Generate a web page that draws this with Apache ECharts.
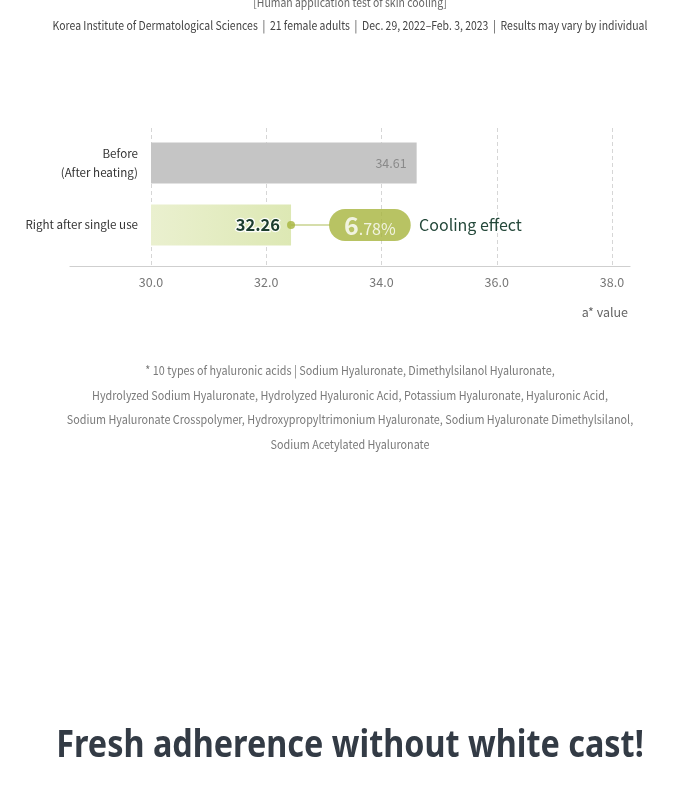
<!DOCTYPE html>
<html><head><meta charset="utf-8">
<script src="https://cdn.jsdelivr.net/npm/echarts@6/dist/echarts.min.js"></script>
<style>html,body{margin:0;padding:0;background:#fff}#c{width:700px;height:810px}</style>
</head><body><div id="c"></div>
<script>
// ---- data ----
var categories = ['Before\n(After heating)', 'Right after single use'];
var barValues = [34.61, 32.43];          // bar lengths as drawn
var valueLabels = ['34.61', '32.26'];    // printed values
var tickValues = [30, 32, 34, 36, 38];
var axisMin = 30, axisMax = 38, axisStep = 2;
var effectBig = '6', effectSmall = '.78%';
var effectText = 'Cooling effect';
var axisName = 'a* value';
var subtitle = '[Human application test of skin cooling]';
var sourceLine = 'Korea Institute of Dermatological Sciences  |  21 female adults  |  Dec. 29, 2022\u2013Feb. 3, 2023  |  Results may vary by individual';
var footnote = [
  '* 10 types of hyaluronic acids | Sodium Hyaluronate, Dimethylsilanol Hyaluronate,',
  'Hydrolyzed Sodium Hyaluronate, Hydrolyzed Hyaluronic Acid, Potassium Hyaluronate, Hyaluronic Acid,',
  'Sodium Hyaluronate Crosspolymer, Hydroxypropyltrimonium Hyaluronate, Sodium Hyaluronate Dimethylsilanol,',
  'Sodium Acetylated Hyaluronate'
];
var headline = 'Fresh adherence without white cast!';

var FONT = '"Noto Sans CJK KR", "Noto Sans", sans-serif';
var HFONT = '"Noto Sans", "Open Sans", sans-serif';
var chart = echarts.init(document.getElementById('c'));

function centerText(t, y, size, color, sx) {
  return { type: 'text', x: 350, y: y, scaleX: sx, silent: true,
    style: { text: t, textAlign: 'center', textVerticalAlign: 'middle',
      fontFamily: FONT, fontSize: size, fill: color } };
}
var texts = [
  centerText(subtitle, 2, 12, '#666', 0.87),
  centerText(sourceLine, 25, 12, '#444', 0.87)
];
footnote.forEach(function (t, i) {
  texts.push(centerText(t, 370.5 + i * 24.6, 12, '#7a7a7a', 0.9));
});
texts.push({ type: 'text', x: 350, y: 746, scaleX: 0.852, silent: true,
  style: { text: headline, textAlign: 'center', textVerticalAlign: 'middle',
    fontFamily: HFONT, fontSize: 38, fontWeight: 'bold', fill: '#333b45' } });

var option = {
  backgroundColor: '#fff',
  animation: false,
  title: [
    { text: axisName, right: 72, top: 306, padding: 0,
      textStyle: { fontFamily: FONT, fontSize: 12.5, fontWeight: 'normal', color: '#666' } }
  ],
  grid: [
    { left: 151, right: 88, top: 132, height: 124 },   // bars
    { left: 151, right: 88, top: 128, height: 138 },   // dashed grid + tick labels
    { left: 70, right: 70, top: 128, height: 138 }     // long axis line
  ],
  xAxis: [
    { gridIndex: 0, type: 'value', min: axisMin, max: axisMax, interval: axisStep, show: false },
    { gridIndex: 1, type: 'value', min: axisMin, max: axisMax, interval: axisStep,
      axisLine: { show: false }, axisTick: { show: false },
      splitLine: { show: true, lineStyle: { color: '#d6d6d6', type: [4, 3], width: 1 } },
      axisLabel: { margin: 10, fontFamily: FONT, fontSize: 12.5, color: '#777',
        formatter: function (v) { return v.toFixed(1); } } },
    { gridIndex: 2, type: 'value', min: 0, max: 1,
      axisLine: { show: true, lineStyle: { color: '#cfcfcf', width: 1.2 } },
      axisTick: { show: false }, axisLabel: { show: false }, splitLine: { show: false } }
  ],
  yAxis: [
    { gridIndex: 0, type: 'category', data: categories, inverse: true,
      axisLine: { show: false }, axisTick: { show: false },
      axisLabel: { margin: 13, fontFamily: FONT, fontSize: 11.6, color: '#333', lineHeight: 18.5, align: 'right' } },
    { gridIndex: 1, type: 'value', show: false },
    { gridIndex: 2, type: 'value', show: false }
  ],
  series: [
    { type: 'bar', xAxisIndex: 0, yAxisIndex: 0, barWidth: 41,
      data: [
        { value: barValues[0], itemStyle: { color: '#c5c5c5' },
          label: { show: true, position: 'insideRight', distance: 10, formatter: valueLabels[0],
            fontFamily: FONT, fontSize: 12.5, color: '#8a8a8a' } },
        { value: barValues[1],
          itemStyle: { color: new echarts.graphic.LinearGradient(0, 0, 1, 0, [
            { offset: 0, color: '#eaf0cf' }, { offset: 1, color: '#dde8b4' }]) },
          label: { show: true, position: 'insideRight', distance: 11, formatter: valueLabels[1],
            fontFamily: FONT, fontSize: 16.5, fontWeight: 'bold', color: '#1c3d2e',
            textBorderColor: 'rgba(255,255,255,0.9)', textBorderWidth: 2.5 } }
      ] },
    { type: 'scatter', xAxisIndex: 0, yAxisIndex: 0, symbolSize: 8,
      itemStyle: { color: '#a6b43c' },
      data: [[barValues[1], 1]],
      label: { show: true, position: 'right', distance: 34,
        formatter: '{b|' + effectBig + '}{s|' + effectSmall + '}',
        backgroundColor: '#a6b43c', borderRadius: 16, padding: [3, 15, 3, 15],
        rich: {
          b: { fontFamily: FONT, fontSize: 25, fontWeight: 'bold', color: '#fff', lineHeight: 26, verticalAlign: 'bottom' },
          s: { fontFamily: FONT, fontSize: 16, color: '#fff', lineHeight: 26, verticalAlign: 'bottom', padding: [0, 0, 1, 0] }
        } },
      markLine: { silent: true, symbol: 'none', label: { show: false },
        lineStyle: { color: '#c9d38f', width: 1.5, type: 'solid' },
        data: [[{ coord: [barValues[1], 1] }, { coord: [33.1, 1] }]] },
      markPoint: { symbolSize: 0, silent: true,
        data: [{ coord: [barValues[1], 1] }],
        label: { show: true, position: 'right', distance: 128, formatter: effectText,
          fontFamily: FONT, fontSize: 16, color: '#24483a' } },
      z: 5 }
  ],
  graphic: texts
};
chart.setOption(option);
</script></body></html>
